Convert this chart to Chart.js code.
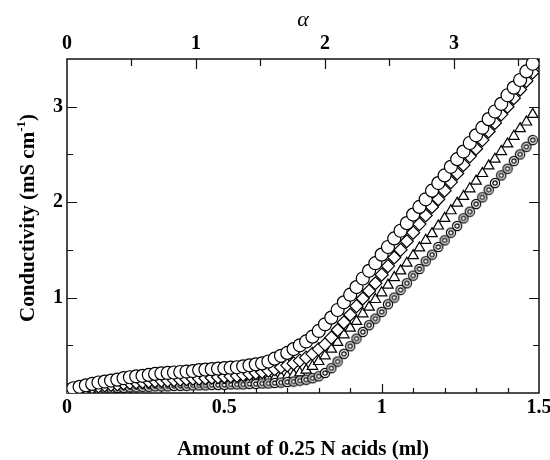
<!DOCTYPE html>
<html>
<head>
<meta charset="utf-8">
<script src="https://cdn.jsdelivr.net/npm/chart.js@4.4.0/dist/chart.umd.min.js"></script>
<style>
  body { margin: 0; background: #fff; }
</style>
</head>
<body>
<canvas id="myChart" width="550" height="460"></canvas>
<script>
// titration volume (ml) shared by all four runs
var volume = [0,0.02,0.04,0.06,0.08,0.10,0.12,0.14,0.16,0.18,
  0.20,0.22,0.24,0.26,0.28,0.30,0.32,0.34,0.36,0.38,
  0.40,0.42,0.44,0.46,0.48,0.50,0.52,0.54,0.56,0.58,
  0.60,0.62,0.64,0.66,0.68,0.70,0.72,0.74,0.76,0.78,
  0.80,0.82,0.84,0.86,0.88,0.90,0.92,0.94,0.96,0.98,
  1.00,1.02,1.04,1.06,1.08,1.10,1.12,1.14,1.16,1.18,
  1.20,1.22,1.24,1.26,1.28,1.30,1.32,1.34,1.36,1.38,
  1.40,1.42,1.44,1.46,1.48];

// conductivity (mS cm-1)
var condCircle = [0.03,0.05,0.065,0.08,0.095,0.11,0.12,0.13,0.14,0.155,
  0.165,0.175,0.18,0.19,0.2,0.205,0.21,0.215,0.22,0.225,
  0.23,0.24,0.245,0.25,0.255,0.26,0.265,0.27,0.28,0.29,
  0.30,0.31,0.33,0.36,0.39,0.42,0.46,0.50,0.54,0.59,
  0.65,0.72,0.79,0.87,0.95,1.03,1.11,1.20,1.28,1.36,
  1.45,1.53,1.62,1.70,1.78,1.87,1.95,2.03,2.12,2.20,
  2.28,2.37,2.45,2.53,2.62,2.70,2.78,2.87,2.95,3.03,
  3.12,3.20,3.28,3.37,3.45];
var condDiamond = [0.02,0.03,0.04,0.05,0.06,0.07,0.08,0.085,0.09,0.10,
  0.105,0.11,0.115,0.12,0.125,0.13,0.13,0.135,0.14,0.145,
  0.15,0.15,0.155,0.16,0.165,0.17,0.175,0.18,0.19,0.20,
  0.21,0.22,0.235,0.25,0.27,0.29,0.31,0.34,0.37,0.41,
  0.46,0.51,0.58,0.66,0.74,0.82,0.91,0.99,1.07,1.15,
  1.24,1.33,1.42,1.50,1.59,1.68,1.77,1.86,1.95,2.03,
  2.12,2.21,2.30,2.39,2.48,2.56,2.65,2.74,2.83,2.92,
  3.00,3.09,3.18,3.27,3.36];
var condTriangle = [0.02,0.03,0.04,0.05,0.055,0.06,0.065,0.07,0.075,0.08,
  0.085,0.09,0.09,0.095,0.095,0.10,0.10,0.105,0.105,0.11,
  0.11,0.115,0.115,0.12,0.12,0.125,0.125,0.13,0.13,0.135,
  0.14,0.145,0.15,0.155,0.165,0.175,0.19,0.21,0.24,0.28,
  0.33,0.39,0.46,0.53,0.61,0.68,0.75,0.83,0.90,0.98,
  1.05,1.13,1.21,1.28,1.36,1.44,1.52,1.60,1.67,1.75,
  1.83,1.91,1.99,2.06,2.14,2.22,2.30,2.38,2.45,2.53,
  2.61,2.69,2.77,2.84,2.92];
var condRing = [0.01,0.02,0.03,0.035,0.04,0.045,0.05,0.05,0.055,0.055,
  0.06,0.06,0.065,0.065,0.07,0.07,0.07,0.075,0.075,0.075,
  0.08,0.08,0.08,0.085,0.085,0.085,0.09,0.09,0.09,0.095,
  0.095,0.10,0.10,0.105,0.11,0.115,0.12,0.13,0.14,0.155,
  0.175,0.21,0.26,0.33,0.41,0.49,0.57,0.64,0.71,0.78,
  0.85,0.93,1.00,1.08,1.15,1.23,1.30,1.38,1.45,1.53,
  1.60,1.68,1.75,1.83,1.90,1.98,2.05,2.13,2.20,2.28,
  2.35,2.43,2.50,2.58,2.65];

// tick positions for the inward tick marks
var volumeTicks = [0.1,0.2,0.3,0.4,0.5,0.6,0.7,0.8,0.9,1.0,1.1,1.2,1.3,1.4];
var alphaTicks = [0.5,1,1.5,2,2.5,3,3.5];
var condTicks = [0.5,1,1.5,2,2.5,3];

var serif = "'Liberation Serif', 'Times New Roman', serif";

function toPoints(ys) {
  return ys.map(function (v, i) { return { x: volume[i], y: v }; });
}

// small circle with a second ring inside
function ringMarker() {
  var c = document.createElement('canvas');
  c.width = 12; c.height = 12;
  var g = c.getContext('2d');
  g.fillStyle = '#fff';
  g.strokeStyle = '#000';
  g.lineWidth = 1.2;
  g.beginPath(); g.arc(6, 6, 4.6, 0, 2 * Math.PI); g.fill(); g.stroke();
  g.beginPath(); g.arc(6, 6, 2.2, 0, 2 * Math.PI); g.stroke();
  return c;
}

function halfLabel(v) {
  return Math.abs(v * 2 - Math.round(v * 2)) < 1e-6 ? String(Math.round(v * 10) / 10) : '';
}
function wholeLabel(v) {
  return (Math.abs(v - Math.round(v)) < 1e-6 && v > 0) ? String(Math.round(v)) : '';
}

var frameTicks = {
  id: 'frameTicks',
  beforeDatasetsDraw: function (chart) {
    var ctx = chart.ctx, a = chart.chartArea;
    var sx = chart.scales.x, sy = chart.scales.y, sa = chart.scales.alpha;
    ctx.save();
    ctx.strokeStyle = '#111';
    ctx.lineWidth = 1.5;
    ctx.strokeRect(a.left, a.top, a.right - a.left, a.bottom - a.top);
    ctx.lineWidth = 1.2;
    ctx.beginPath();
    volumeTicks.forEach(function (v) {
      var px = Math.round(sx.getPixelForValue(v)) + 0.5;
      var len = Math.abs(v * 2 - Math.round(v * 2)) < 1e-6 ? 9 : 5;
      ctx.moveTo(px, a.bottom); ctx.lineTo(px, a.bottom - len);
    });
    alphaTicks.forEach(function (v) {
      var px = Math.round(sa.getPixelForValue(v)) + 0.5;
      var len = v % 1 === 0 ? 10 : 7;
      ctx.moveTo(px, a.top); ctx.lineTo(px, a.top + len);
    });
    condTicks.forEach(function (v) {
      var py = Math.round(sy.getPixelForValue(v)) + 0.5;
      var len = v % 1 === 0 ? 10 : 6;
      ctx.moveTo(a.left, py); ctx.lineTo(a.left + len, py);
      ctx.moveTo(a.right, py); ctx.lineTo(a.right - len, py);
    });
    ctx.stroke();
    ctx.restore();
  },
  afterDraw: function (chart) {
    // y title with superscript unit
    var ctx = chart.ctx, a = chart.chartArea;
    var main = 'Conductivity (mS cm', sup = '-1', tail = ')';
    ctx.save();
    ctx.fillStyle = '#000';
    ctx.textBaseline = 'alphabetic';
    ctx.font = 'bold 21px ' + serif;
    var w1 = ctx.measureText(main).width, w3 = ctx.measureText(tail).width;
    ctx.font = 'bold 13px ' + serif;
    var w2 = ctx.measureText(sup).width;
    var total = w1 + w2 + w3;
    ctx.translate(34, (a.top + a.bottom) / 2 - 8);
    ctx.rotate(-Math.PI / 2);
    var x0 = -total / 2;
    ctx.font = 'bold 21px ' + serif;
    ctx.fillText(main, x0, 0);
    ctx.font = 'bold 13px ' + serif;
    ctx.fillText(sup, x0 + w1, -9);
    ctx.font = 'bold 21px ' + serif;
    ctx.fillText(tail, x0 + w1 + w2, 0);
    ctx.restore();
  }
};

var markerBase = {
  showLine: false,
  pointBackgroundColor: '#fff',
  pointBorderColor: '#000',
  pointBorderWidth: 1.2
};

function fixHeight(h) {
  return function (s) { s.height = h; s.paddingLeft = 0; s.paddingRight = 0; };
}

new Chart('myChart', {
  type: 'scatter',
  data: {
    datasets: [
      Object.assign({ label: 'circle', data: toPoints(condCircle), pointStyle: 'circle', pointRadius: 6.5, order: 0 }, markerBase),
      Object.assign({ label: 'diamond', data: toPoints(condDiamond), pointStyle: 'rectRot', pointRadius: 6.5, order: 1 }, markerBase),
      Object.assign({ label: 'ring', data: toPoints(condRing), pointStyle: ringMarker(), order: 2 }, markerBase),
      Object.assign({ label: 'triangle', data: toPoints(condTriangle), pointStyle: 'triangle', pointRadius: 6, order: 3 }, markerBase)
    ]
  },
  options: {
    responsive: false,
    animation: false,
    devicePixelRatio: 1,
    layout: { padding: { left: 0, right: 11, top: 0, bottom: 0 } },
    plugins: { legend: { display: false }, tooltip: { enabled: false } },
    scales: {
      x: {
        type: 'linear', position: 'bottom', min: 0, max: 1.5,
        afterFit: fixHeight(67),
        grid: { display: false, drawTicks: false },
        border: { display: false },
        ticks: { stepSize: 0.1, autoSkip: false, maxRotation: 0, padding: 3, color: '#000',
          font: { family: serif, size: 20, weight: 'bold' }, callback: halfLabel },
        title: { display: true, text: 'Amount of 0.25 N acids (ml)', color: '#000',
          font: { family: serif, size: 21, weight: 'bold', lineHeight: 1 }, padding: { top: 0, bottom: 0 } }
      },
      alpha: {
        type: 'linear', position: 'top', min: 0, max: 3.66,
        afterFit: fixHeight(59),
        grid: { display: false, drawTicks: false },
        border: { display: false },
        ticks: { stepSize: 0.5, autoSkip: false, maxRotation: 0, padding: 3, color: '#000',
          font: { family: serif, size: 20, weight: 'bold' },
          callback: function (v) { return Math.abs(v - Math.round(v)) < 1e-6 ? String(Math.round(v)) : ''; } },
        title: { display: true, text: 'α', color: '#000',
          font: { family: serif, size: 22, style: 'italic' }, padding: { top: 7, bottom: 0 } }
      },
      y: {
        type: 'linear', position: 'left', min: 0, max: 3.5,
        afterFit: function (s) { s.width = 67; s.paddingTop = 0; s.paddingBottom = 0; },
        grid: { display: false, drawTicks: false },
        border: { display: false },
        ticks: { stepSize: 0.5, autoSkip: false, padding: 4, color: '#000',
          font: { family: serif, size: 20, weight: 'bold' }, callback: wholeLabel }
      }
    }
  },
  plugins: [frameTicks]
});
</script>
</body>
</html>
